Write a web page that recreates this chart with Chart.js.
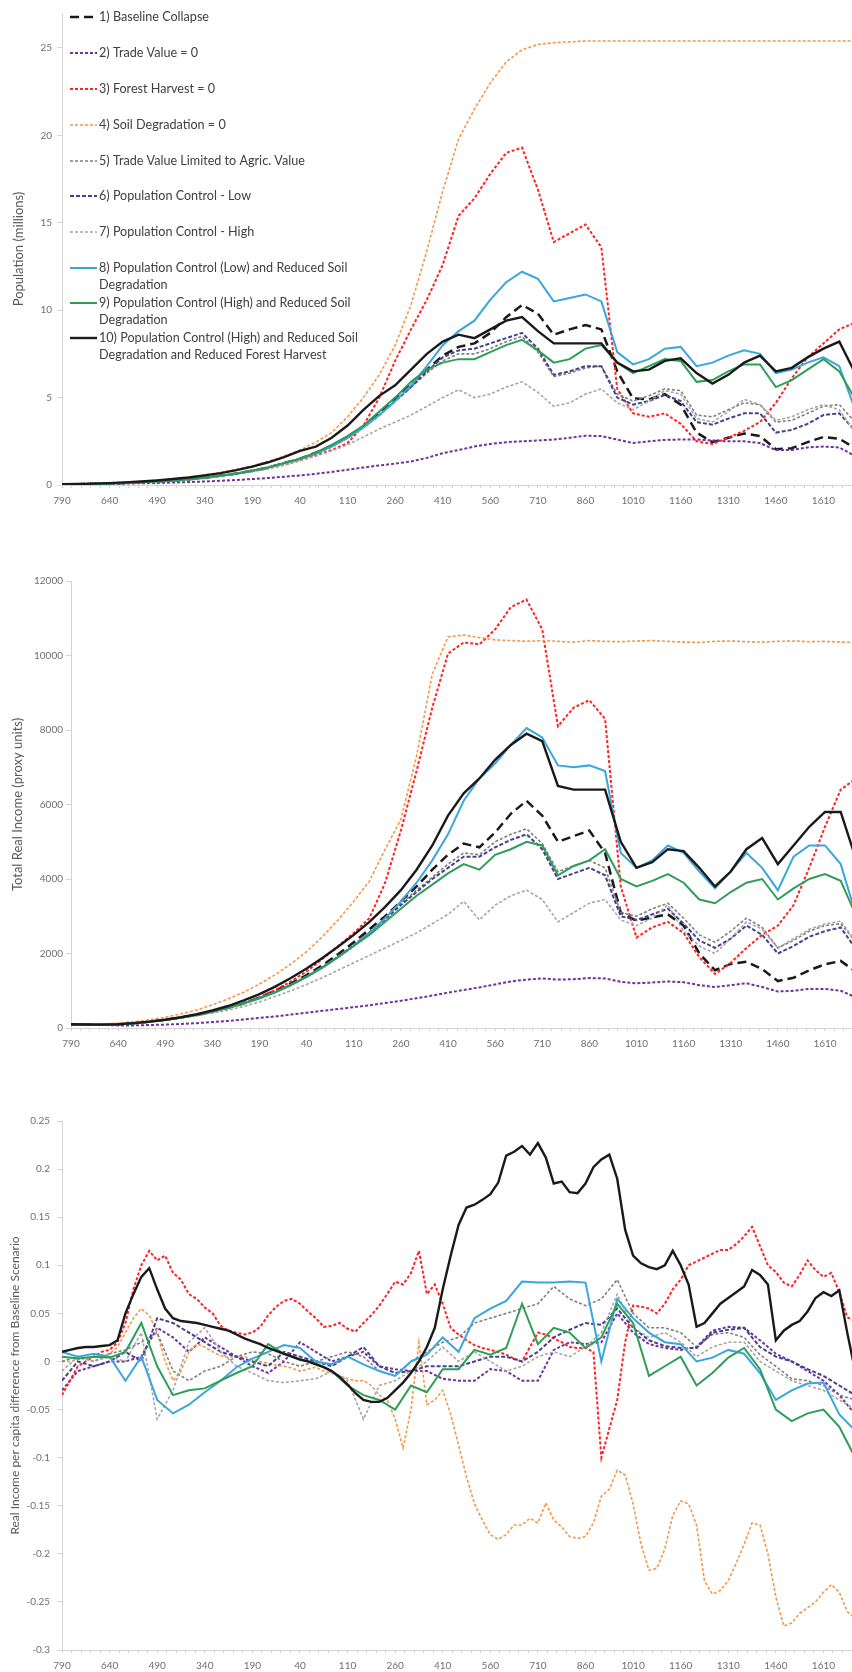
<!DOCTYPE html>
<html>
<head>
<meta charset="utf-8">
<script src="https://cdn.jsdelivr.net/npm/chart.js@4.4.1/dist/chart.umd.min.js"></script>
<style>
  html, body { margin: 0; padding: 0; background: #ffffff; }
  body { width: 852px; height: 1672px; position: relative; overflow: hidden; }
  canvas { position: absolute; left: 0; }
</style>
</head>
<body>
<canvas id="c1" width="852" height="512" style="top:0px"></canvas>
<canvas id="c2" width="852" height="500" style="top:560px"></canvas>
<canvas id="c3" width="852" height="572" style="top:1100px"></canvas>
<script>
// ---------- categories (years; negative = BC, shown without sign) ----------
const years50 = [-790,-740,-690,-640,-590,-540,-490,-440,-390,-340,
  -290,-240,-190,-140,-90,-40,10,60,110,160,
  210,260,310,360,410,460,510,560,610,660,
  710,760,810,860,910,960,1010,1060,1110,1160,
  1210,1260,1310,1360,1410,1460,1510,1560,1610,1660,
  1710];
const years25 = [-790,-765,-740,-715,-690,-665,-640,-615,-590,-565,
  -540,-515,-490,-465,-440,-415,-390,-365,-340,-315,
  -290,-265,-240,-215,-190,-165,-140,-115,-90,-65,
  -40,-15,10,35,60,85,110,135,160,185,
  210,235,260,285,310,335,360,385,410,435,
  460,485,510,535,560,585,610,635,660,685,
  710,735,760,785,810,835,860,885,910,935,
  960,985,1010,1035,1060,1085,1110,1135,1160,1185,
  1210,1235,1260,1285,1310,1335,1360,1385,1410,1435,
  1460,1485,1510,1535,1560,1585,1610,1635,1660,1685,
  1710];
const xLabelYears = [-790,-640,-490,-340,-190,-40,110,260,410,560,710,860,1010,1160,1310,1460,1610];

const seriesNames = [
  '1) Baseline Collapse',
  '2) Trade Value = 0',
  '3) Forest Harvest = 0',
  '4) Soil Degradation = 0',
  '5) Trade Value Limited to Agric. Value',
  '6) Population Control - Low',
  '7) Population Control - High',
  '8) Population Control (Low) and Reduced Soil Degradation',
  '9) Population Control (High) and Reduced Soil Degradation',
  '10) Population Control (High) and Reduced Soil Degradation and Reduced Forest Harvest'
];
const legendLines = [
  ['1) Baseline Collapse'],
  ['2) Trade Value = 0'],
  ['3) Forest Harvest = 0'],
  ['4) Soil Degradation = 0'],
  ['5) Trade Value Limited to Agric. Value'],
  ['6) Population Control - Low'],
  ['7) Population Control - High'],
  ['8) Population Control (Low) and Reduced Soil', 'Degradation'],
  ['9) Population Control (High) and Reduced Soil', 'Degradation'],
  ['10) Population Control (High) and Reduced Soil', 'Degradation and Reduced Forest Harvest']
];

// ---------- Panel 1: Population (millions) ----------
const pop1 = [0.05,0.05,0.07,0.09,0.12,0.16,0.2,0.26,0.33,0.42,
  0.53,0.66,0.82,1.0,1.25,1.5,1.85,2.25,2.75,3.35,
  4.1,4.9,5.8,6.6,7.4,7.9,8.1,8.7,9.6,10.3,
  9.8,8.6,8.9,9.15,8.9,6.5,4.95,4.9,5.2,4.6,
  3.0,2.45,2.7,2.95,2.8,2.05,2.1,2.45,2.75,2.65,
  2.1];
const pop2 = [0.05,0.05,0.06,0.07,0.08,0.1,0.12,0.14,0.17,0.2,
  0.24,0.29,0.34,0.4,0.47,0.55,0.64,0.75,0.87,1.0,
  1.12,1.22,1.35,1.55,1.82,2.0,2.2,2.35,2.45,2.5,
  2.55,2.6,2.7,2.82,2.8,2.6,2.4,2.5,2.58,2.6,
  2.6,2.55,2.5,2.5,2.4,2.0,2.0,2.15,2.2,2.15,
  1.65];
const pop3 = [0.05,0.05,0.07,0.09,0.12,0.16,0.2,0.26,0.33,0.42,
  0.52,0.64,0.78,0.95,1.15,1.4,1.7,2.0,2.4,3.4,
  5.0,7.1,8.9,10.6,12.6,15.4,16.4,17.8,19.0,19.3,
  16.9,13.9,14.4,14.9,13.6,5.5,4.1,3.9,4.1,3.5,
  2.5,2.35,2.7,3.1,3.6,4.7,6.1,7.3,8.1,8.9,
  9.3];
const pop4 = [0.05,0.07,0.1,0.13,0.17,0.22,0.28,0.36,0.46,0.58,
  0.72,0.9,1.1,1.35,1.65,2.0,2.45,3.0,3.9,5.0,
  6.3,8.0,10.3,13.4,16.8,19.8,21.5,23.0,24.2,24.9,
  25.2,25.3,25.35,25.4,25.4,25.4,25.4,25.4,25.4,25.4,
  25.4,25.4,25.4,25.4,25.4,25.4,25.4,25.4,25.4,25.4,
  25.4];
const pop5 = [0.05,0.05,0.07,0.09,0.12,0.16,0.2,0.26,0.33,0.42,
  0.53,0.66,0.82,1.0,1.25,1.5,1.8,2.2,2.7,3.3,
  4.0,4.8,5.6,6.4,7.1,7.5,7.5,7.8,8.2,8.5,
  7.6,6.2,6.4,6.7,6.8,5.2,4.8,5.1,5.5,5.4,
  4.0,3.9,4.3,4.7,4.6,3.6,3.7,4.1,4.5,4.6,
  3.6];
const pop6 = [0.05,0.05,0.07,0.09,0.12,0.16,0.2,0.26,0.33,0.42,
  0.53,0.66,0.82,1.0,1.25,1.5,1.8,2.2,2.7,3.3,
  4.0,4.8,5.6,6.5,7.3,7.7,7.8,8.1,8.4,8.7,
  7.8,6.3,6.5,6.8,6.8,5.0,4.6,4.8,5.15,4.8,
  3.6,3.45,3.8,4.1,4.1,3.0,3.15,3.5,4.0,4.1,
  3.1];
const pop7 = [0.05,0.05,0.07,0.09,0.12,0.16,0.2,0.26,0.33,0.42,
  0.52,0.64,0.78,0.95,1.15,1.4,1.65,1.95,2.3,2.75,
  3.2,3.6,4.0,4.5,5.0,5.45,5.0,5.2,5.6,5.9,
  5.3,4.5,4.7,5.2,5.5,4.7,4.3,4.8,5.4,5.2,
  3.8,3.6,4.2,4.9,4.6,3.7,3.9,4.3,4.6,4.3,
  3.0];
const pop8 = [0.05,0.05,0.07,0.09,0.12,0.16,0.2,0.26,0.33,0.42,
  0.53,0.66,0.82,1.0,1.25,1.5,1.8,2.2,2.7,3.3,
  4.0,4.8,5.7,6.8,8.0,8.8,9.4,10.6,11.6,12.2,
  11.8,10.5,10.7,10.9,10.5,7.6,6.9,7.2,7.8,7.9,
  6.8,7.0,7.4,7.7,7.5,6.4,6.6,7.0,7.3,6.8,
  4.3];
const pop9 = [0.05,0.05,0.07,0.09,0.12,0.16,0.2,0.26,0.33,0.42,
  0.53,0.66,0.82,1.0,1.25,1.5,1.85,2.3,2.8,3.4,
  4.2,5.0,5.9,6.6,7.0,7.2,7.2,7.6,8.0,8.3,
  7.7,7.0,7.2,7.8,8.0,7.0,6.4,6.8,7.2,7.1,
  5.9,6.0,6.5,6.9,6.9,5.6,6.0,6.6,7.2,6.5,
  4.9];
const pop10 = [0.05,0.06,0.08,0.11,0.15,0.2,0.26,0.34,0.43,0.55,
  0.68,0.85,1.05,1.3,1.6,1.95,2.2,2.7,3.4,4.3,
  5.1,5.7,6.6,7.5,8.2,8.6,8.4,8.9,9.4,9.6,
  8.8,8.1,8.1,8.1,8.1,7.0,6.5,6.6,7.1,7.25,
  6.4,5.8,6.3,7.0,7.4,6.5,6.7,7.3,7.8,8.2,
  6.4];

// ---------- Panel 2: Total Real Income (proxy units) ----------
const inc1 = [100,95,90,100,130,170,220,280,350,440,
  540,660,820,1000,1200,1420,1680,1980,2300,2650,
  3000,3400,3800,4250,4650,4950,4850,5250,5750,6100,
  5700,5000,5150,5300,4700,3100,2880,2970,3050,2750,
  2000,1550,1720,1780,1580,1260,1350,1550,1710,1800,
  1500];
const inc2 = [100,90,80,70,70,80,90,110,130,160,
  190,230,270,310,360,410,460,510,560,610,
  670,730,800,870,950,1020,1090,1170,1250,1300,
  1330,1300,1310,1340,1330,1240,1200,1220,1250,1230,
  1150,1100,1150,1200,1100,980,1000,1050,1050,1000,
  820];
const inc3 = [100,95,90,100,130,170,220,280,350,440,
  540,670,830,1020,1250,1520,1850,2200,2550,2950,
  3900,5300,6900,8600,10050,10350,10300,10700,11300,11500,
  10700,8100,8600,8800,8300,3800,2430,2700,2850,2550,
  1900,1450,1750,2150,2500,2750,3300,4300,5400,6400,
  6700];
const inc4 = [100,100,110,130,170,220,290,380,480,620,
  780,960,1180,1430,1720,2050,2450,2900,3400,3950,
  4800,5600,7300,9500,10500,10550,10480,10420,10400,10380,
  10400,10380,10360,10400,10380,10370,10390,10400,10380,10360,
  10350,10380,10390,10370,10360,10380,10390,10370,10380,10360,
  10350];
const inc5 = [100,95,90,100,130,170,220,280,350,440,
  540,660,810,980,1170,1390,1640,1920,2230,2580,
  2950,3350,3700,4050,4400,4700,4650,5000,5200,5350,
  4950,4200,4350,4500,4300,3100,3000,3200,3350,2950,
  2500,2300,2600,2950,2700,2150,2350,2600,2750,2800,
  2300];
const inc6 = [100,95,90,100,130,170,220,280,350,440,
  540,660,800,970,1160,1380,1630,1910,2220,2560,
  2920,3300,3650,4000,4300,4600,4600,4850,5050,5200,
  4800,4000,4150,4300,4100,3000,2900,3050,3200,2800,
  2350,2150,2400,2750,2500,2000,2200,2450,2600,2700,
  2100];
const inc7 = [100,95,90,100,130,170,220,270,330,400,
  480,580,700,850,1000,1170,1350,1550,1750,1950,
  2150,2350,2550,2800,3050,3400,2900,3300,3550,3700,
  3450,2850,3100,3350,3450,2900,2750,2950,3300,2600,
  2200,2000,2400,2850,2650,2150,2400,2650,2790,2870,
  2300];
const inc8 = [100,95,90,100,130,170,220,280,350,440,
  540,660,800,960,1150,1370,1620,1900,2200,2550,
  2950,3400,3900,4500,5200,6100,6700,7100,7600,8050,
  7800,7050,7000,7050,6900,4700,4300,4500,4900,4700,
  4200,3750,4200,4700,4300,3700,4600,4900,4900,4400,
  3000];
const inc9 = [100,95,90,100,130,170,220,280,350,440,
  540,660,800,960,1150,1370,1620,1900,2200,2500,
  2850,3200,3550,3850,4150,4400,4250,4650,4800,5000,
  4900,4100,4350,4500,4800,4000,3800,3950,4130,3900,
  3450,3350,3650,3900,4000,3450,3750,4000,4130,3950,
  3000];
const inc10 = [100,95,90,100,130,170,220,290,370,470,
  590,740,910,1110,1340,1600,1880,2180,2500,2850,
  3250,3700,4250,4900,5700,6300,6700,7200,7600,7900,
  7700,6500,6400,6400,6400,5000,4300,4450,4800,4750,
  4300,3800,4200,4800,5100,4400,4900,5400,5800,5800,
  4500];

// ---------- Panel 3: Real Income per capita difference from Baseline ----------
const diff2 = [-0.03,-0.01,-0.005,0.0,0.0,0.005,0.035,0.025,0.01,0.025,
  0.015,0.005,-0.005,-0.012,0.0,0.02,0.01,0.0,0.005,0.01,
  -0.005,-0.008,-0.01,-0.01,-0.018,-0.02,-0.02,-0.008,-0.01,-0.02,
  -0.02,0.012,0.02,0.018,0.02,0.05,0.03,0.018,0.014,0.012,
  0.015,0.032,0.036,0.035,0.022,0.008,0.0,-0.01,-0.02,-0.035,
  -0.055];
const diff3 = [-0.035,-0.02,-0.005,0.0,0.005,0.01,0.012,0.02,0.04,0.075,
  0.1,0.115,0.105,0.11,0.092,0.085,0.07,0.065,0.056,0.05,
  0.037,0.032,0.03,0.028,0.03,0.036,0.048,0.057,0.063,0.065,
  0.06,0.052,0.045,0.036,0.037,0.04,0.034,0.031,0.04,0.048,
  0.058,0.07,0.083,0.08,0.092,0.115,0.07,0.08,0.06,0.035,
  0.028,0.022,0.017,0.014,0.012,0.01,0.007,0.003,0.0,0.015,
  0.03,0.028,0.024,0.02,0.015,0.014,0.014,0.01,-0.1,-0.07,
  -0.04,0.02,0.058,0.057,0.055,0.05,0.06,0.075,0.085,0.1,
  0.104,0.108,0.112,0.116,0.116,0.122,0.13,0.14,0.12,0.1,
  0.093,0.082,0.078,0.09,0.105,0.095,0.088,0.092,0.072,0.046,
  0.042];
const diff4 = [0.0,0.0,0.002,0.003,0.005,0.006,0.008,0.015,0.03,0.045,
  0.055,0.048,0.03,0.0,-0.02,-0.01,0.01,0.018,0.015,0.01,
  0.006,0.004,0.006,0.005,0.002,0.0,-0.002,-0.004,-0.005,-0.007,
  -0.01,-0.008,-0.006,-0.01,-0.012,-0.015,-0.018,-0.02,-0.02,-0.025,
  -0.035,-0.04,-0.06,-0.09,-0.05,0.02,-0.045,-0.04,-0.03,-0.055,
  -0.087,-0.12,-0.148,-0.165,-0.18,-0.185,-0.18,-0.17,-0.17,-0.163,
  -0.168,-0.147,-0.165,-0.172,-0.182,-0.184,-0.182,-0.168,-0.14,-0.133,
  -0.113,-0.118,-0.148,-0.19,-0.217,-0.215,-0.195,-0.16,-0.145,-0.148,
  -0.17,-0.228,-0.242,-0.238,-0.228,-0.21,-0.19,-0.168,-0.17,-0.2,
  -0.245,-0.275,-0.272,-0.262,-0.256,-0.25,-0.24,-0.232,-0.24,-0.26,
  -0.267];
const diff5 = [0.0,0.005,0.0,0.008,0.012,0.02,0.03,-0.01,-0.02,-0.01,
  -0.005,0.005,0.01,0.008,0.0,-0.005,0.0,0.005,0.01,0.005,
  -0.01,-0.015,0.0,0.01,0.02,0.025,0.04,0.045,0.05,0.055,
  0.06,0.078,0.065,0.058,0.065,0.085,0.05,0.035,0.035,0.03,
  0.015,0.028,0.03,0.025,0.007,-0.005,-0.018,-0.02,-0.025,-0.035,
  -0.04];
const diff6 = [-0.02,0.0,-0.005,0.0,0.01,0.0,0.045,0.04,0.03,0.02,
  0.01,0.005,0.0,-0.005,0.01,0.005,0.0,-0.005,0.005,0.015,
  -0.005,-0.012,-0.01,-0.005,-0.005,-0.005,0.0,0.005,0.005,0.0,
  0.01,0.025,0.033,0.04,0.038,0.055,0.035,0.022,0.016,0.014,
  0.014,0.03,0.033,0.035,0.015,0.005,0.0,-0.008,-0.015,-0.025,
  -0.035];
const diff7 = [-0.01,0.005,0.0,0.005,0.0,0.03,-0.06,-0.03,0.02,0.035,
  0.01,-0.005,-0.012,-0.02,-0.022,-0.02,-0.018,-0.01,-0.02,-0.06,
  -0.025,-0.02,-0.01,0.0,0.015,0.0,0.01,0.0,-0.01,-0.005,
  0.005,0.01,0.005,0.015,0.03,0.07,0.035,0.025,0.03,0.02,
  0.005,0.015,0.02,0.02,0.0,-0.01,-0.02,-0.025,-0.03,-0.04,
  -0.05];
const diff8 = [0.01,0.005,0.008,0.005,-0.02,0.005,-0.04,-0.054,-0.045,-0.032,
  -0.02,-0.006,0.003,0.01,0.017,0.014,0.0,-0.003,0.005,-0.003,
  -0.01,-0.015,0.0,0.007,0.025,0.01,0.045,0.055,0.063,0.083,
  0.082,0.082,0.083,0.082,0.0,0.065,0.045,0.03,0.02,0.018,
  0.0,0.004,0.012,0.008,-0.012,-0.04,-0.03,-0.023,-0.022,-0.055,
  -0.072];
const diff9 = [0.005,0.003,0.005,0.004,0.01,0.04,-0.005,-0.035,-0.03,-0.028,
  -0.02,-0.012,-0.005,0.018,0.008,0.002,-0.002,-0.01,-0.025,-0.035,
  -0.04,-0.05,-0.025,-0.032,-0.008,-0.008,0.012,0.007,0.014,0.06,
  0.018,0.035,0.03,0.014,0.025,0.06,0.04,-0.015,-0.005,0.005,
  -0.025,-0.012,0.004,0.014,-0.008,-0.05,-0.062,-0.054,-0.05,-0.068,
  -0.1];
const diff10 = [0.01,0.012,0.014,0.015,0.015,0.016,0.017,0.022,0.05,0.07,
  0.088,0.097,0.075,0.055,0.045,0.042,0.041,0.04,0.038,0.036,
  0.034,0.032,0.028,0.024,0.021,0.018,0.014,0.011,0.008,0.005,
  0.002,0.0,-0.003,-0.006,-0.01,-0.016,-0.024,-0.033,-0.04,-0.042,
  -0.042,-0.038,-0.03,-0.022,-0.012,0.0,0.015,0.035,0.075,0.11,
  0.142,0.16,0.163,0.168,0.174,0.186,0.214,0.218,0.224,0.215,
  0.227,0.212,0.185,0.187,0.176,0.175,0.185,0.202,0.21,0.215,
  0.19,0.137,0.11,0.102,0.098,0.096,0.1,0.115,0.1,0.08,
  0.036,0.04,0.05,0.06,0.066,0.072,0.078,0.095,0.09,0.08,
  0.022,0.032,0.038,0.042,0.052,0.066,0.072,0.068,0.074,0.03,
  -0.01];

// ---------- axis ticks ----------
const yTicks1 = [0,5,10,15,20,25];
const yLabels1 = ['0','5','10','15','20','25'];
const yTicks2 = [0,2000,4000,6000,8000,10000,12000];
const yLabels2 = ['0','2000','4000','6000','8000','10000','12000'];
const yTicks3 = [-0.3,-0.25,-0.2,-0.15,-0.1,-0.05,0,0.05,0.1,0.15,0.2,0.25];
const yLabels3 = ['-0.3','-0.25','-0.2','-0.15','-0.1','-0.05','0','0.05','0.1','0.15','0.2','0.25'];

// ---------- series styles ----------
const styles = [
  { color: '#1a1a1a', width: 2.5, dash: [9,5] },
  { color: '#7030a0', width: 2,   dash: [3,2] },
  { color: '#ff2222', width: 2,   dash: [3,2] },
  { color: '#f79646', width: 1.6, dash: [3,2] },
  { color: '#7f7f7f', width: 1.6, dash: [3,2] },
  { color: '#45408f', width: 2,   dash: [4,2] },
  { color: '#a6a6a6', width: 1.6, dash: [3,2] },
  { color: '#3aa6de', width: 2,   dash: [] },
  { color: '#2e9e57', width: 2,   dash: [] },
  { color: '#1a1a1a', width: 2.4, dash: [] }
];

function mk(idx, xs, ys) {
  const s = styles[idx];
  return {
    label: seriesNames[idx],
    data: xs.map((x, i) => ({ x: x, y: ys[i] })),
    borderColor: s.color,
    backgroundColor: s.color,
    borderWidth: s.width,
    borderDash: s.dash,
    pointRadius: 0,
    tension: 0,
    fill: false,
    order: 10 - idx
  };
}

const legendY = [17, 53, 89, 125, 161, 196, 232, 268, 303, 338];
const legendPlugin = {
  id: 'panelLegend',
  afterDraw(chart) {
    const ctx = chart.ctx;
    ctx.save();
    ctx.font = '12.6px Lato, "Liberation Sans", sans-serif';
    ctx.fillStyle = '#404040';
    ctx.textBaseline = 'middle';
    ctx.textAlign = 'left';
    chart.data.datasets.forEach((ds, i) => {
      const y = legendY[i];
      ctx.save();
      ctx.strokeStyle = ds.borderColor;
      ctx.lineWidth = ds.borderWidth;
      ctx.setLineDash(ds.borderDash || []);
      ctx.beginPath();
      ctx.moveTo(70, y);
      ctx.lineTo(97, y);
      ctx.stroke();
      ctx.restore();
      legendLines[i].forEach((t, j) => ctx.fillText(t, 99, y + j * 17));
    });
    ctx.restore();
  }
};

const minorTicks = [];
for (let v = -790; v <= 1700; v += 30) minorTicks.push(v);

function makeChart(id, datasets, cfg) {
  return new Chart(document.getElementById(id), {
    type: 'line',
    data: { datasets: datasets },
    options: {
      responsive: false,
      maintainAspectRatio: false,
      animation: false,
      devicePixelRatio: 1,
      layout: { padding: { top: cfg.top, right: 0, left: 0, bottom: 0 } },
      plugins: { legend: { display: false }, tooltip: { enabled: false }, title: { display: false } },
      elements: { point: { radius: 0 }, line: { tension: 0 } },
      scales: {
        x: {
          type: 'linear',
          min: -790,
          max: cfg.xmax,
          afterBuildTicks: (s) => { s.ticks = minorTicks.filter(v => v <= cfg.xmax).map(v => ({ value: v })); },
          afterFit: (s) => { s.height = cfg.xh; s.paddingLeft = 0; s.paddingRight = 0; },
          ticks: {
            autoSkip: false, maxRotation: 0, minRotation: 0, padding: 7,
            color: '#6f6f6f', font: { family: 'Lato', size: 10 },
            callback: (v) => (xLabelYears.includes(v) ? String(Math.abs(v)) : '')
          },
          grid: { drawOnChartArea: false, drawTicks: true, tickLength: 3, color: '#d4d4d4' },
          border: { display: true, color: '#d4d4d4', width: 1 }
        },
        y: {
          type: 'linear',
          min: cfg.ymin,
          max: cfg.ymax,
          afterBuildTicks: (s) => { s.ticks = cfg.yticks.map(v => ({ value: v })); },
          afterFit: (s) => { s.width = cfg.left; s.paddingTop = 0; s.paddingBottom = 0; },
          ticks: {
            padding: cfg.ypad, color: '#6f6f6f', font: { family: 'Lato', size: 10 },
            callback: (v, i) => cfg.ylabels[i]
          },
          title: {
            display: true, text: cfg.title, color: '#595959',
            font: { family: 'Lato', size: cfg.titleSize },
            padding: { top: cfg.titlePad, bottom: 0 }
          },
          grid: { drawOnChartArea: false, drawTicks: true, tickLength: 5, color: '#d4d4d4' },
          border: { display: true, color: '#d4d4d4', width: 1 }
        }
      }
    },
    plugins: cfg.plugins || []
  });
}

// Panel 1
makeChart('c1', [
  mk(0, years50, pop1), mk(1, years50, pop2), mk(2, years50, pop3), mk(3, years50, pop4),
  mk(4, years50, pop5), mk(5, years50, pop6), mk(6, years50, pop7), mk(7, years50, pop8),
  mk(8, years50, pop9), mk(9, years50, pop10)
], {
  top: 13, xh: 27, left: 62, xmax: 1700, ymin: 0, ymax: 27,
  yticks: yTicks1, ylabels: yLabels1, ypad: 5,
  title: 'Population (millions)', titleSize: 13, titlePad: 11,
  plugins: [legendPlugin]
});

// Panel 2
makeChart('c2', [
  mk(0, years50, inc1), mk(1, years50, inc2), mk(2, years50, inc3), mk(3, years50, inc4),
  mk(4, years50, inc5), mk(5, years50, inc6), mk(6, years50, inc7), mk(7, years50, inc8),
  mk(8, years50, inc9), mk(9, years50, inc10)
], {
  top: 21, xh: 32, left: 71, xmax: 1696, ymin: 0, ymax: 12000,
  yticks: yTicks2, ylabels: yLabels2, ypad: 3,
  title: 'Total Real Income (proxy units)', titleSize: 13, titlePad: 10
});

// Panel 3 (difference from baseline: series 2-10)
makeChart('c3', [
  mk(1, years50, diff2), mk(2, years25, diff3), mk(3, years25, diff4),
  mk(4, years50, diff5), mk(5, years50, diff6), mk(6, years50, diff7), mk(7, years50, diff8),
  mk(8, years50, diff9), mk(9, years25, diff10)
], {
  top: 21, xh: 22, left: 62, xmax: 1700, ymin: -0.3, ymax: 0.25,
  yticks: yTicks3, ylabels: yLabels3, ypad: 7,
  title: 'Real Income per capita difference from Baseline Scenario', titleSize: 12, titlePad: 8
});
</script>
</body>
</html>
